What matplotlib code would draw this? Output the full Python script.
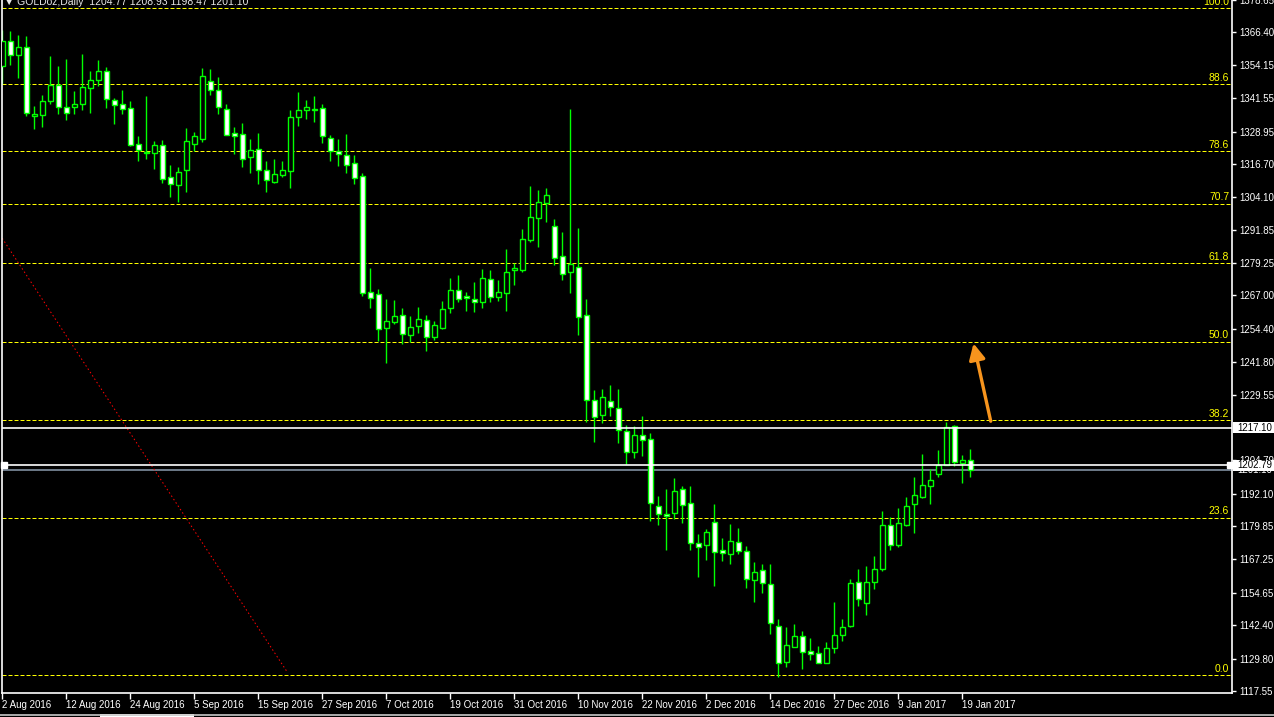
import matplotlib
matplotlib.use("Agg")
import matplotlib.pyplot as plt
from matplotlib.patches import Rectangle
from matplotlib.lines import Line2D

plt.rcParams['font.family'] = ['Liberation Sans', 'DejaVu Sans']

# GOLDoz daily candles, 2 Aug 2016 .. 20 Jan 2017
opens = [1353.6, 1363.3, 1358.0, 1360.8, 1335.0, 1335.2, 1340.4, 1346.7, 1338.4, 1338.2,
         1339.4, 1345.4, 1348.4, 1352.0, 1340.7, 1339.2, 1337.9, 1324.1, 1321.4, 1320.7,
         1323.7, 1311.7, 1308.6, 1314.3, 1324.3, 1326.3, 1348.2, 1344.8, 1337.3, 1328.3,
         1328.2, 1319.5, 1322.2, 1314.6, 1310.0, 1312.4, 1313.9, 1334.5, 1336.9, 1336.9,
         1337.9, 1326.6, 1321.5, 1319.9, 1316.9, 1312.0, 1268.4, 1267.5, 1254.9, 1256.8,
         1259.6, 1252.1, 1255.3, 1257.7, 1251.5, 1254.9, 1262.1, 1269.0, 1266.8, 1265.6,
         1264.7, 1273.2, 1266.6, 1268.1, 1276.8, 1276.8, 1288.1, 1296.4, 1302.1, 1293.2,
         1281.8, 1275.7, 1277.9, 1259.6, 1227.6, 1221.8, 1227.2, 1224.5, 1215.9, 1207.8,
         1214.4, 1212.9, 1187.6, 1184.3, 1184.8, 1194.0, 1188.7, 1173.3, 1172.9, 1181.6,
         1170.9, 1169.4, 1174.0, 1170.6, 1159.4, 1163.1, 1157.8, 1142.0, 1128.6, 1134.3,
         1138.2, 1132.6, 1131.8, 1128.3, 1133.7, 1138.6, 1142.1, 1158.6, 1150.7, 1158.6,
         1163.6, 1180.4, 1172.9, 1180.3, 1188.4, 1190.8, 1195.1, 1199.7, 1203.1, 1217.8,
         1203.7, 1204.77]
highs = [1367.4, 1366.8, 1365.3, 1364.9, 1338.5, 1342.9, 1357.4, 1353.6, 1356.5, 1344.2,
         1358.1, 1351.7, 1356.1, 1353.2, 1341.6, 1344.8, 1340.4, 1327.2, 1342.3, 1325.3,
         1325.7, 1316.3, 1315.6, 1330.3, 1328.7, 1352.9, 1352.7, 1349.4, 1339.4, 1330.6,
         1332.1, 1326.1, 1328.4, 1318.0, 1318.5, 1318.0, 1336.9, 1343.8, 1340.8, 1342.3,
         1339.5, 1327.8, 1326.0, 1328.2, 1320.0, 1313.1, 1277.3, 1269.4, 1265.6, 1265.4,
         1262.2, 1259.3, 1262.7, 1259.7, 1257.5, 1265.0, 1273.6, 1274.7, 1268.4, 1272.2,
         1276.9, 1276.6, 1272.8, 1284.5, 1279.4, 1292.0, 1308.3, 1306.8, 1307.7, 1295.8,
         1291.0, 1337.3, 1292.5, 1265.7, 1231.4, 1231.8, 1233.3, 1231.8, 1218.2, 1217.8,
         1221.3, 1215.2, 1191.1, 1193.7, 1197.9, 1195.2, 1195.2, 1177.0, 1178.7, 1188.4,
         1175.5, 1180.5, 1179.0, 1172.3, 1166.3, 1165.5, 1165.5, 1144.7, 1141.8, 1142.7,
         1140.2, 1137.5, 1134.6, 1136.1, 1151.0, 1144.6, 1159.8, 1163.5, 1164.7, 1168.5,
         1185.4, 1183.3, 1186.6, 1191.0, 1198.6, 1207.2, 1201.5, 1208.7, 1219.1, 1218.0,
         1206.9, 1208.93]
lows = [1346.9, 1354.0, 1349.2, 1334.7, 1329.9, 1330.6, 1339.4, 1335.6, 1333.3, 1335.4,
        1337.0, 1336.0, 1346.0, 1337.9, 1331.8, 1335.4, 1323.4, 1317.8, 1318.4, 1314.9,
        1309.4, 1304.3, 1302.4, 1306.2, 1321.5, 1325.1, 1342.9, 1335.6, 1327.5, 1320.5,
        1315.6, 1313.4, 1309.2, 1306.2, 1309.6, 1311.9, 1307.7, 1331.2, 1333.7, 1332.6,
        1324.7, 1317.8, 1315.9, 1313.4, 1309.2, 1266.9, 1262.1, 1249.9, 1241.6, 1256.2,
        1248.7, 1249.3, 1253.0, 1245.9, 1250.2, 1254.5, 1260.2, 1264.7, 1261.2, 1260.6,
        1262.1, 1264.6, 1265.0, 1261.2, 1271.0, 1275.7, 1287.2, 1285.5, 1294.9, 1278.5,
        1272.9, 1268.1, 1252.2, 1219.1, 1211.6, 1219.0, 1221.3, 1211.2, 1203.2, 1205.5,
        1206.2, 1181.7, 1180.3, 1170.7, 1182.7, 1181.0, 1170.7, 1160.7, 1167.0, 1157.3,
        1166.6, 1165.5, 1169.2, 1156.5, 1151.3, 1154.6, 1139.1, 1123.0, 1126.7, 1134.1,
        1126.0, 1129.3, 1128.0, 1128.0, 1131.8, 1136.6, 1141.8, 1149.6, 1146.2, 1156.0,
        1162.9, 1171.0, 1172.0, 1179.8, 1177.3, 1190.5, 1188.2, 1198.4, 1203.1, 1202.5,
        1196.1, 1198.47]
closes = [1363.3, 1358.0, 1361.0, 1335.8, 1335.4, 1340.4, 1346.4, 1338.4, 1335.8, 1339.2,
          1345.9, 1348.6, 1352.0, 1341.4, 1338.8, 1337.3, 1323.7, 1321.8, 1320.9, 1323.7,
          1310.9, 1309.0, 1313.6, 1325.3, 1327.1, 1349.8, 1344.8, 1338.4, 1327.8, 1327.3,
          1318.4, 1321.9, 1314.6, 1310.5, 1312.8, 1314.4, 1334.6, 1336.9, 1338.1, 1337.6,
          1327.2, 1321.5, 1320.3, 1316.2, 1311.5, 1268.1, 1266.2, 1254.3, 1257.5, 1259.3,
          1252.4, 1255.1, 1258.1, 1251.2, 1255.8, 1261.9, 1269.0, 1265.6, 1266.2, 1264.4,
          1273.6, 1266.6, 1268.4, 1275.7, 1277.3, 1288.3, 1296.5, 1302.2, 1304.8, 1281.3,
          1275.3, 1278.9, 1258.7, 1227.6, 1221.0, 1228.8, 1224.9, 1216.2, 1207.8, 1214.4,
          1212.5, 1188.7, 1184.4, 1183.7, 1193.3, 1188.0, 1173.3, 1171.8, 1177.8, 1170.1,
          1169.7, 1174.4, 1170.5, 1159.9, 1162.5, 1158.2, 1143.1, 1128.3, 1134.8, 1138.2,
          1132.2, 1131.4, 1128.3, 1133.7, 1138.6, 1141.6, 1158.2, 1152.2, 1158.9, 1163.5,
          1180.1, 1172.9, 1181.2, 1187.6, 1191.7, 1195.5, 1197.4, 1203.1, 1217.2, 1204.0,
          1204.9, 1201.10]

date_labels = ["2 Aug 2016", "12 Aug 2016", "24 Aug 2016", "5 Sep 2016", "15 Sep 2016",
               "27 Sep 2016", "7 Oct 2016", "19 Oct 2016", "31 Oct 2016", "10 Nov 2016",
               "22 Nov 2016", "2 Dec 2016", "14 Dec 2016", "27 Dec 2016", "9 Jan 2017",
               "19 Jan 2017"]
price_ticks = [1378.65, 1366.40, 1354.15, 1341.55, 1328.95, 1316.70, 1304.10, 1291.85,
               1279.25, 1267.00, 1254.40, 1241.80, 1229.55, 1204.79, 1192.10, 1179.85,
               1167.25, 1154.65, 1142.40, 1129.80, 1117.55]

# fibonacci retracement
fib_high = 1375.56
fib_low = 1123.6
fib_levels = [100.0, 88.6, 78.6, 70.7, 61.8, 50.0, 38.2, 23.6, 0.0]

# horizontal lines
hline_a = 1217.10
hline_b = 1202.79
bid = 1201.10

# red trend line and orange arrow (bar index, price)
trend_x = [-0.29, 35.6]
trend_y = [1289.9, 1124.8]
arrow_from = (123.55, 1219.5)
arrow_to = (121.4, 1248.9)

W, H = 1274, 717
px = 0.72  # one pixel in points
fig = plt.figure(figsize=(W / 100, H / 100), dpi=100, facecolor="black")
ax = fig.add_axes([2 / W, (H - 693) / H, 1230 / W, 693 / H], facecolor="black")
ax.set_xlim(-0.0375, 153.71)
ax.set_ylim(1116.8, 1378.09)

lime = "#00ff00"
n = len(opens)
idx = list(range(n))
ax.vlines(idx, lows, highs, color=lime, lw=1.0, zorder=2)
for i in idx:
    o, c = opens[i], closes[i]
    bottom = min(o, c)
    h = max(abs(c - o), 0.12)
    fill = "white" if c < o else "black"
    ax.add_patch(Rectangle((i - 0.28, bottom), 0.56, h, facecolor=fill,
                           edgecolor=lime, lw=1.0, zorder=3))

# fib lines + labels
for lv in fib_levels:
    y = fib_low + (fib_high - fib_low) * lv / 100
    ax.axhline(y, color="#ffff00", lw=px, linestyle=(0, (4, 2)), zorder=1)
    ax.text(153.35, y + 0.5, f"{lv:.1f}", color="#ffff00", fontsize=7.5,
            ha="right", va="bottom", zorder=4)

ax.axhline(hline_a, color="white", lw=1.2, zorder=4)
ax.axhline(hline_b, color="white", lw=1.2, zorder=4)
ax.axhline(bid, color="#8090a0", lw=1.2, zorder=1)
ax.plot([0.27, 153.5], [hline_b, hline_b], "s", color="white", ms=4, zorder=5,
        clip_on=False)

ax.plot(trend_x, trend_y, color="#ff0000", lw=px, linestyle=(0, (1.5, 2.5)), zorder=2)

ax.annotate("", xy=arrow_to, xytext=arrow_from,
            arrowprops=dict(arrowstyle="-|>", color="#f7941d", lw=2.4,
                            mutation_scale=24, shrinkA=0, shrinkB=0), zorder=6)

# axes frame
for s in ["left", "bottom", "right"]:
    ax.spines[s].set_color("white")
    ax.spines[s].set_linewidth(1.2)
ax.spines["top"].set_visible(False)

ax.set_xticks(list(range(0, 8 * len(date_labels), 8)))
ax.set_xticklabels(date_labels, ha="left")
ax.yaxis.tick_right()
ax.set_yticks(price_ticks)
ax.set_yticklabels([f"{v:.2f}" for v in price_ticks])
ax.tick_params(axis="x", colors="white", length=4, width=1, pad=1, labelsize=7)
ax.tick_params(axis="y", colors="white", length=3, width=1, pad=2, labelsize=7)

# price boxes on the right scale
yt = ax.get_yaxis_transform()
ax.text(1.0045, bid, f"{bid:.2f}", transform=yt, color="white", fontsize=7,
        va="center", ha="left", clip_on=False, zorder=7)
for v in [hline_a, hline_b]:
    ax.add_patch(Rectangle((1.0008, v - 2.2), 0.034, 4.4, transform=yt,
                           facecolor="white", edgecolor="none", clip_on=False, zorder=8))
    ax.text(1.0045, v, f"{v:.2f}", transform=yt, color="black", fontsize=7,
            va="center", ha="left", clip_on=False, zorder=9)

fig.text(4 / W, 1 - 5.0 / H, "\u25bc GOLDoz,Daily  1204.77 1208.93 1198.47 1201.10",
         color="#e8e8e8", fontsize=7.5, va="baseline", ha="left")

# bottom tab strip
fig.add_artist(Line2D([0, 1], [1 - 715 / H] * 2, color="#c8c8c8", lw=1.2))
fig.add_artist(Rectangle((100 / W, 0), 94 / W, 3.5 / H, facecolor="white",
                         edgecolor="none", transform=fig.transFigure))

fig.savefig("out.png", dpi=100, facecolor="black")
